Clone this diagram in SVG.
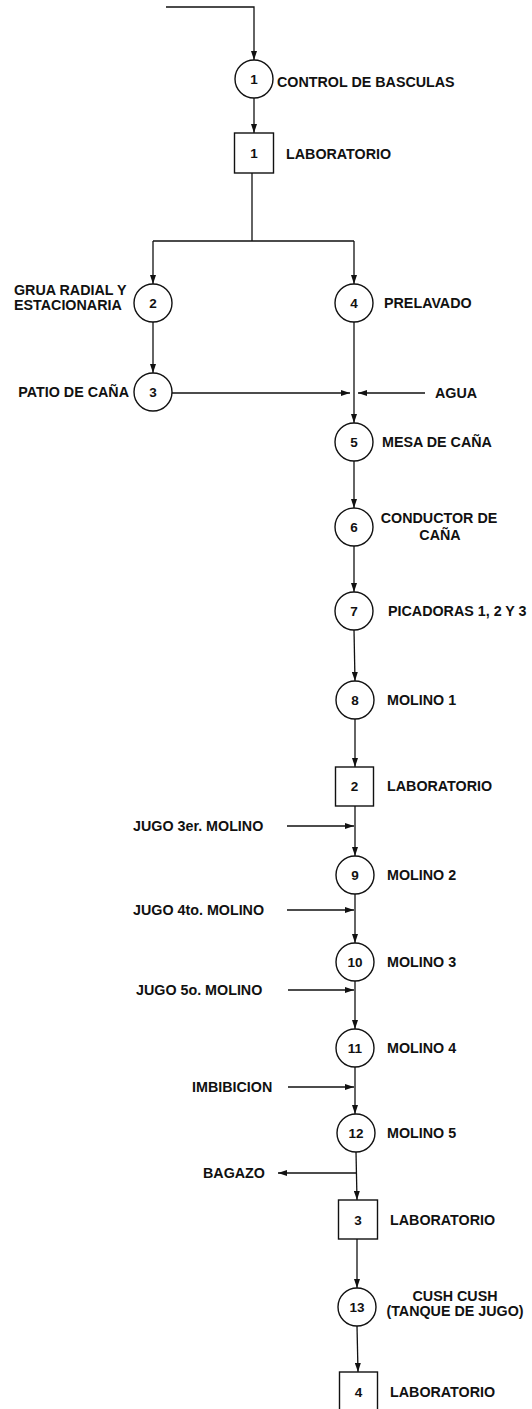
<svg xmlns="http://www.w3.org/2000/svg" width="532" height="1409" viewBox="0 0 532 1409">
<style>
.n{fill:#fff;stroke:#111;stroke-width:1.4}
.t{font-family:"Liberation Sans",Arial,sans-serif;font-weight:bold;font-size:14.3px;fill:#111}
.num{font-family:"Liberation Sans",Arial,sans-serif;font-weight:bold;font-size:13.5px;fill:#111;text-anchor:middle;dominant-baseline:central}
.c{fill:none;stroke:#111;stroke-width:1.3}
</style>
<defs>
<marker id="a" markerWidth="9" markerHeight="6" refX="9" refY="3" orient="auto" markerUnits="userSpaceOnUse">
<path d="M0,0 L9,3 L0,6 Z" fill="#111"/>
</marker>
</defs>
<rect width="532" height="1409" fill="#fff"/>
<g id="connectors">
<path class="c" d="M166,7 H254 V60" marker-end="url(#a)"/>
<path class="c" d="M254,98 V133" marker-end="url(#a)"/>
<path class="c" d="M252,173 V241 M153,241 H354"/>
<path class="c" d="M153,241 V284" marker-end="url(#a)"/>
<path class="c" d="M354,241 V284" marker-end="url(#a)"/>
<path class="c" d="M153,322 V373" marker-end="url(#a)"/>
<path class="c" d="M172,393 H350" marker-end="url(#a)"/>
<path class="c" d="M425,393 H358" marker-end="url(#a)"/>
<path class="c" d="M354,322 V423" marker-end="url(#a)"/>
<path class="c" d="M354,461 V508" marker-end="url(#a)"/>
<path class="c" d="M354,546 V592" marker-end="url(#a)"/>
<path class="c" d="M354,630 L355,681" marker-end="url(#a)"/>
<path class="c" d="M355,719 V767" marker-end="url(#a)"/>
<path class="c" d="M355,806 V856" marker-end="url(#a)"/>
<path class="c" d="M287,826 H354" marker-end="url(#a)"/>
<path class="c" d="M355,894 V943" marker-end="url(#a)"/>
<path class="c" d="M287,910 H354" marker-end="url(#a)"/>
<path class="c" d="M355,981 V1029" marker-end="url(#a)"/>
<path class="c" d="M288,990 H354" marker-end="url(#a)"/>
<path class="c" d="M355,1067 V1114" marker-end="url(#a)"/>
<path class="c" d="M288,1087 H354" marker-end="url(#a)"/>
<path class="c" d="M356,1152 L357,1200" marker-end="url(#a)"/>
<path class="c" d="M357,1173 H278" marker-end="url(#a)"/>
<path class="c" d="M357,1239 V1288" marker-end="url(#a)"/>
<path class="c" d="M357,1326 L358,1372" marker-end="url(#a)"/>
</g>
<g id="n1"><circle class="n" cx="254" cy="79" r="19"/><text class="num" x="254" y="79">1</text><text class="t" x="277" y="87">CONTROL DE BASCULAS</text></g>
<g id="b1"><rect class="n" x="234.5" y="133" width="39" height="40"/><text class="num" x="254" y="153">1</text><text class="t" x="286" y="159">LABORATORIO</text></g>
<g id="n2"><circle class="n" cx="153" cy="303" r="19"/><text class="num" x="153" y="303">2</text><text class="t" x="14" y="295">GRUA RADIAL Y</text><text class="t" x="14" y="310">ESTACIONARIA</text></g>
<g id="n4"><circle class="n" cx="354" cy="303" r="19"/><text class="num" x="354" y="303">4</text><text class="t" x="384" y="308">PRELAVADO</text></g>
<g id="n3"><circle class="n" cx="153" cy="392" r="19"/><text class="num" x="153" y="392">3</text><text class="t" x="129" y="397" text-anchor="end">PATIO DE CAÑA</text></g>
<g id="agua"><text class="t" x="435" y="398">AGUA</text></g>
<g id="n5"><circle class="n" cx="354" cy="442" r="19"/><text class="num" x="354" y="442">5</text><text class="t" x="382" y="447">MESA DE CAÑA</text></g>
<g id="n6"><circle class="n" cx="354" cy="527" r="19"/><text class="num" x="354" y="527">6</text><text class="t" x="439" y="523" text-anchor="middle">CONDUCTOR DE</text><text class="t" x="440" y="540" text-anchor="middle">CAÑA</text></g>
<g id="n7"><circle class="n" cx="354" cy="611" r="19"/><text class="num" x="354" y="611">7</text><text class="t" x="388" y="616">PICADORAS 1, 2 Y 3</text></g>
<g id="n8"><circle class="n" cx="355" cy="700" r="19"/><text class="num" x="355" y="700">8</text><text class="t" x="387" y="705">MOLINO 1</text></g>
<g id="b2"><rect class="n" x="335.5" y="767" width="38" height="39"/><text class="num" x="354.5" y="786">2</text><text class="t" x="387" y="791">LABORATORIO</text></g>
<g id="j3"><text class="t" x="133" y="831">JUGO 3er. MOLINO</text></g>
<g id="n9"><circle class="n" cx="355" cy="875" r="19"/><text class="num" x="355" y="875">9</text><text class="t" x="387" y="880">MOLINO 2</text></g>
<g id="j4"><text class="t" x="133" y="915">JUGO 4to. MOLINO</text></g>
<g id="n10"><circle class="n" cx="355" cy="962" r="19"/><text class="num" x="355" y="962">10</text><text class="t" x="387" y="967">MOLINO 3</text></g>
<g id="j5"><text class="t" x="136" y="995">JUGO 5o. MOLINO</text></g>
<g id="n11"><circle class="n" cx="355" cy="1048" r="19"/><text class="num" x="355" y="1048">11</text><text class="t" x="387" y="1053">MOLINO 4</text></g>
<g id="imb"><text class="t" x="192" y="1092">IMBIBICION</text></g>
<g id="n12"><circle class="n" cx="356" cy="1133" r="19"/><text class="num" x="356" y="1133">12</text><text class="t" x="387" y="1138">MOLINO 5</text></g>
<g id="bag"><text class="t" x="203" y="1178">BAGAZO</text></g>
<g id="b3"><rect class="n" x="338.5" y="1200" width="39" height="39"/><text class="num" x="358" y="1220">3</text><text class="t" x="390" y="1225">LABORATORIO</text></g>
<g id="n13"><circle class="n" cx="357" cy="1307" r="19"/><text class="num" x="357" y="1307">13</text><text class="t" x="455" y="1301" text-anchor="middle">CUSH CUSH</text><text class="t" x="455" y="1316" text-anchor="middle">(TANQUE DE JUGO)</text></g>
<g id="b4"><rect class="n" x="339.5" y="1372" width="38" height="40"/><text class="num" x="358.5" y="1392">4</text><text class="t" x="390" y="1397">LABORATORIO</text></g>
</svg>
